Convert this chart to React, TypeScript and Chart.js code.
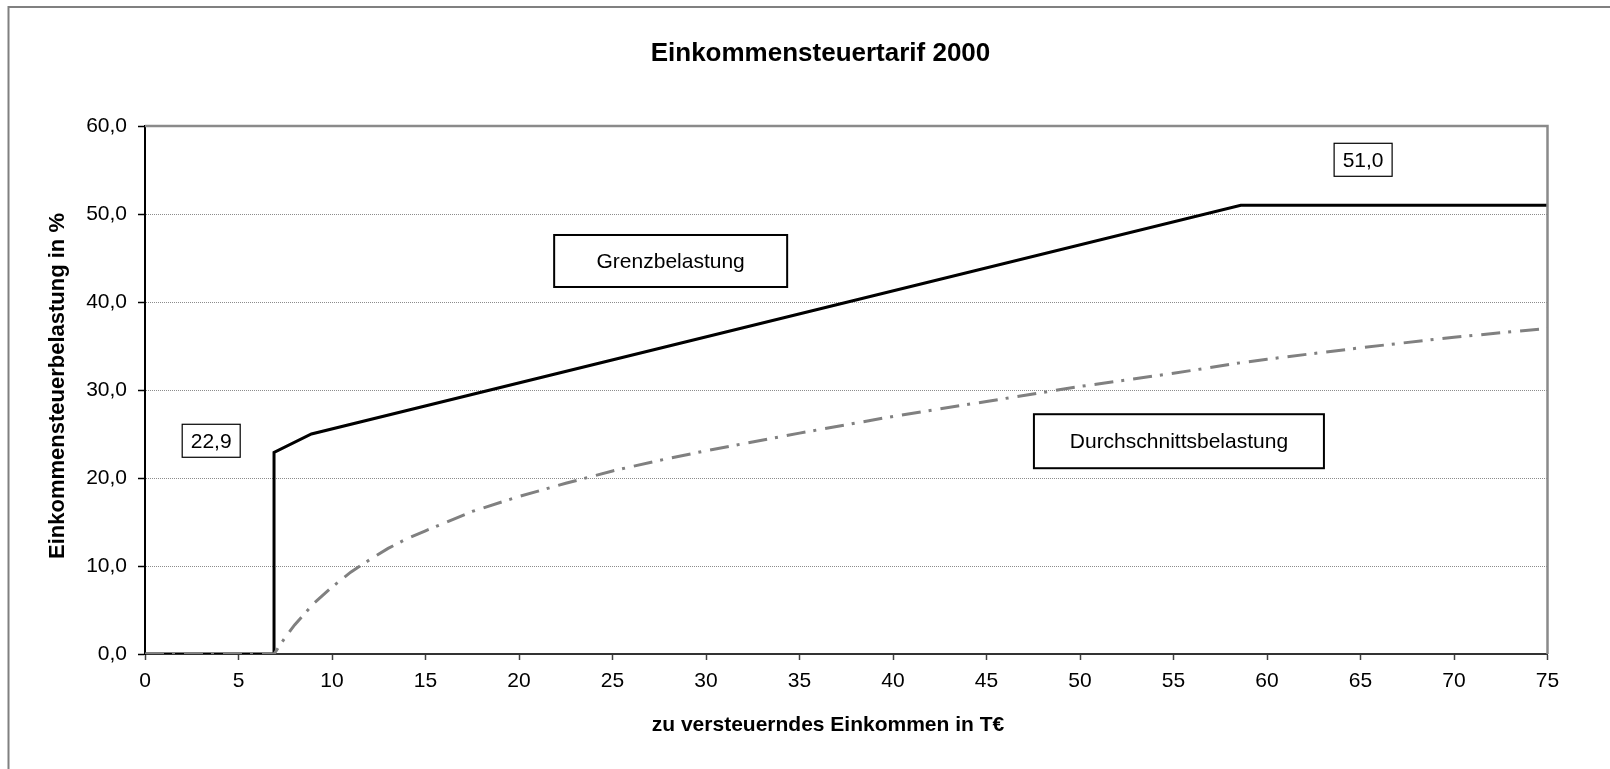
import React, { useEffect, useRef } from 'react';
import { Chart, registerables } from 'chart.js';

Chart.register(...registerables);

// ---- data ----
const titleText = 'Einkommensteuertarif 2000';
const xAxisTitle = 'zu versteuerndes Einkommen in T€';
const yAxisTitle = 'Einkommensteuerbelastung in %';

// Grenzbelastung (marginal rate), x in T€, y in %
const marginalX = [0, 6.9, 6.9, 8.9, 58.6, 75];
const marginalY = [0, 0, 22.9, 25.0, 51.0, 51.0];

// Durchschnittsbelastung (average rate)
const averageX = [0, 6.9, 7.5, 8, 9, 10, 11, 12, 13, 14, 15, 17.5, 20, 22.5, 25, 27.5, 30, 35, 40, 45, 50, 55, 58.6, 60, 65, 70, 75];
const averageY = [0, 0, 1.9, 3.3, 5.7, 7.6, 9.3, 10.7, 12.0, 13.1, 14.0, 16.2, 17.9, 19.4, 20.8, 22.0, 23.1, 25.1, 27.0, 28.7, 30.4, 31.9, 33.1, 33.5, 34.8, 36.0, 37.0];

// text boxes placed in data coordinates
const labelTexts = ['22,9', '51,0', 'Grenzbelastung', 'Durchschnittsbelastung'];
const labelX = [3.54, 65.14, 28.11, 55.29];
const labelY = [24.23, 56.16, 44.66, 24.18];

const FONT = '"Liberation Sans", Arial, Helvetica, sans-serif';

// box styles (size in px, border width)
const boxStyles = [
  { w: 58, h: 33, lw: 1.2 },
  { w: 58, h: 33, lw: 1.2 },
  { w: 233, h: 52, lw: 2 },
  { w: 290, h: 54, lw: 2 },
];

const decoPlugin = {
  id: 'deco',
  beforeDraw(chart: any) {
    const ctx = chart.ctx as CanvasRenderingContext2D;
    ctx.save();
    ctx.fillStyle = '#ffffff';
    ctx.fillRect(0, 0, chart.width, chart.height);
    // outer frame (only left & top visible)
    ctx.strokeStyle = '#808080';
    ctx.lineWidth = 2;
    ctx.beginPath();
    ctx.moveTo(8.5, chart.height + 2);
    ctx.lineTo(8.5, 7);
    ctx.lineTo(chart.width + 2, 7);
    ctx.stroke();
    ctx.restore();
  },
  afterDatasetsDraw(chart: any) {
    const ctx = chart.ctx as CanvasRenderingContext2D;
    const a = chart.chartArea;
    ctx.save();
    ctx.strokeStyle = '#8a8a8a';
    ctx.lineWidth = 2.5;
    ctx.beginPath();
    ctx.moveTo(a.left, a.top);
    ctx.lineTo(a.right, a.top);
    ctx.lineTo(a.right, a.bottom);
    ctx.stroke();
    ctx.restore();
  },
  afterDraw(chart: any) {
    const ctx = chart.ctx as CanvasRenderingContext2D;
    const xs = chart.scales.x;
    const ys = chart.scales.y;
    ctx.save();
    // title
    ctx.fillStyle = '#000';
    ctx.font = `bold 26px ${FONT}`;
    ctx.textAlign = 'center';
    ctx.textBaseline = 'alphabetic';
    ctx.fillText(titleText, 820.5, 61);
    // x axis title
    ctx.font = `bold 21px ${FONT}`;
    ctx.fillText(xAxisTitle, 828, 731);
    // y axis title
    ctx.save();
    ctx.font = `bold 22px ${FONT}`;
    ctx.translate(63.5, 386);
    ctx.rotate(-Math.PI / 2);
    ctx.fillText(yAxisTitle, 0, 0);
    ctx.restore();
    // annotation boxes
    ctx.font = `21px ${FONT}`;
    ctx.textBaseline = 'middle';
    labelTexts.forEach((t, i) => {
      const cx = xs.getPixelForValue(labelX[i]);
      const cy = ys.getPixelForValue(labelY[i]);
      const s = boxStyles[i];
      ctx.fillStyle = '#fff';
      ctx.fillRect(cx - s.w / 2, cy - s.h / 2, s.w, s.h);
      ctx.strokeStyle = '#000';
      ctx.lineWidth = s.lw;
      ctx.strokeRect(cx - s.w / 2, cy - s.h / 2, s.w, s.h);
      ctx.fillStyle = '#000';
      ctx.fillText(t, cx, cy + 1);
    });
    ctx.restore();
  },
};

export default function App() {
  const ref = useRef<HTMLCanvasElement>(null);

  useEffect(() => {
    if (!ref.current) return;
    const marginalData = marginalX.map((x, i) => ({ x, y: marginalY[i] }));
    const averageData = averageX.map((x, i) => ({ x, y: averageY[i] }));
    const chart = new Chart(ref.current, {
      type: 'line',
      data: {
        datasets: [
          {
            label: 'Durchschnittsbelastung',
            data: averageData,
            borderColor: '#808080',
            borderWidth: 3,
            borderDash: [19, 8, 3, 9],
            borderCapStyle: 'butt',
            pointRadius: 0,
            tension: 0,
            fill: false,
            order: 1,
          },
          {
            label: 'Grenzbelastung',
            data: marginalData,
            borderColor: '#000000',
            borderWidth: 3,
            pointRadius: 0,
            tension: 0,
            fill: false,
            order: 2,
          },
        ],
      },
      options: {
        responsive: false,
        animation: false,
        devicePixelRatio: 1,
        layout: { padding: { top: 126, right: 62.5, bottom: 0, left: 0 } },
        plugins: {
          legend: { display: false },
          title: { display: false },
          tooltip: { enabled: false },
        },
        scales: {
          x: {
            type: 'linear',
            min: 0,
            max: 75,
            ticks: {
              stepSize: 5,
              color: '#000',
              font: { family: FONT, size: 21 },
              padding: 9,
              maxRotation: 0,
              autoSkip: false,
            },
            grid: {
              display: true,
              drawOnChartArea: false,
              drawTicks: true,
              tickLength: 6,
              color: '#404040',
              tickColor: '#404040',
              tickWidth: 1.5,
            },
            border: { color: '#333333', width: 2 },
            afterFit: (s: any) => {
              s.height = 115;
            },
          },
          y: {
            type: 'linear',
            min: 0,
            max: 60,
            ticks: {
              stepSize: 10,
              color: '#000',
              font: { family: FONT, size: 21 },
              padding: 11,
              callback: (v: any) => Number(v).toFixed(1).replace('.', ','),
            },
            grid: {
              display: true,
              drawOnChartArea: true,
              drawTicks: true,
              tickLength: 7,
              lineWidth: 1,
              color: (c: any) =>
                c.tick && (c.tick.value === 0 || c.tick.value === 60) ? 'rgba(0,0,0,0)' : '#8c8c8c',
              tickColor: '#000',
              tickWidth: 1.5,
              tickBorderDash: [],
            },
            border: { color: '#000', width: 2, dash: [1, 1] },
            afterFit: (s: any) => {
              s.width = 145;
            },
          },
        },
      },
      plugins: [decoPlugin],
    });
    return () => chart.destroy();
  }, []);

  return (
    <div style={{ position: 'fixed', left: 0, top: 0, width: 1610, height: 769, background: '#fff', overflow: 'hidden' }}>
      <canvas ref={ref} width={1610} height={769} style={{ display: 'block', width: 1610, height: 769 }} />
    </div>
  );
}
